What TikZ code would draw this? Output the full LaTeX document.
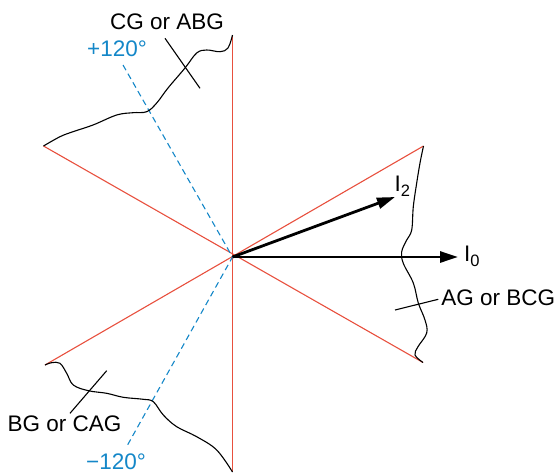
\documentclass[tikz,border=0pt]{standalone}
\usepackage{fontspec}
\setmainfont{Liberation Sans}
\usetikzlibrary{arrows.meta}
\definecolor{phred}{RGB}{232,80,62}
\definecolor{phblue}{RGB}{20,135,200}
\newcommand\subs[1]{\raisebox{-4.5pt}{\fontsize{16.5}{16.5}\selectfont #1}}
\begin{document}
\begin{tikzpicture}[x=1pt,y=-1pt,
  redline/.style={phred, line width=1.1pt},
  refline/.style={phblue, line width=1.1pt, dash pattern=on 6pt off 4pt},
  wave/.style={black, line width=1.1pt},
  tickline/.style={black, line width=1.1pt},
  phasor/.style={black, line width=2.8pt, -{Triangle[length=18pt,width=11pt]}},
  lbl/.style={inner sep=0pt, font=\fontsize{22.5}{27}\selectfont},
  bluelbl/.style={lbl, text=phblue}]
\useasboundingbox (0,0) rectangle (560,474);
\coordinate (O) at (232.5,257);
\coordinate (T) at (232.5,35);
\coordinate (B) at (232.5,472);
\coordinate (UL) at (43.5,146);
\coordinate (UR) at (423.5,146);
\coordinate (LL) at (45,365);
\coordinate (LR) at (423,362.5);
\coordinate (P) at (123,65);
\coordinate (M) at (127,446);
\coordinate (I2tip) at (395,197);
\coordinate (I0tip) at (458,257);
% red lines
\draw[redline] (T) -- (B);
\draw[redline] (UL) -- (LR);
\draw[redline] (LL) -- (UR);
% blue reference lines
\draw[refline] (P) -- (O) -- (M);
% wavy boundaries
\draw[wave] plot[smooth, tension=0.6] coordinates {(UL) (60,136.7) (73,131.7) (93,125) (116.7,115) (133,112.7) (146.7,111.7) (156.7,103) (168,88) (185,68) (196.7,53) (206.7,50) (220,51.7) (228,48) (T)};
\draw[wave] plot[smooth, tension=0.6] coordinates {(UR) (420,163) (416.7,183) (413.3,206.7) (411.7,230) (406.7,240) (401.7,251.7) (403.3,263.3) (413.3,283) (418.3,303) (425,320) (426.7,333) (418,346.7) (415,355) (LR)};
\draw[wave] plot[smooth, tension=0.6] coordinates {(LL) (51.7,362.7) (60,363.3) (66.7,373.3) (73.3,385) (88.3,390.7) (106.7,393.3) (123.3,397.3) (143.3,399.3) (153.3,401.7) (163.3,415) (176.7,426.7) (196.7,436.7) (216.7,450) (B)};
% ticks
\coordinate (t1a) at (165,38.3);
\coordinate (t1b) at (200,88.3);
\coordinate (t2a) at (395,310);
\coordinate (t2b) at (438.3,299.3);
\coordinate (t3a) at (70,413.3);
\coordinate (t3b) at (106.7,370.7);
\draw[tickline] (t1a) -- (t1b);
\draw[tickline] (t2a) -- (t2b);
\draw[tickline] (t3a) -- (t3b);
% phasors
\draw[phasor] (O) -- (I2tip);
\draw[phasor] (O) -- (I0tip);
% labels
\node[lbl, anchor=base west] (cg) at (110,29) {CG or ABG};
\node[bluelbl, anchor=base west] (p120) at (87,56.7) {+120°};
\node[lbl, anchor=base west] (ag) at (441.2,305) {AG or BCG};
\node[lbl, anchor=base east] (bg) at (121.5,431.7) {BG or CAG};
\node[bluelbl, anchor=base west] (m120) at (86,469.5) {−120°};
\node[lbl, anchor=base west] (i2) at (394.5,191.7) {I\subs{2}};
\node[lbl, anchor=base west] (i0) at (464,261.7) {I\subs{0}};
\end{tikzpicture}
\end{document}
